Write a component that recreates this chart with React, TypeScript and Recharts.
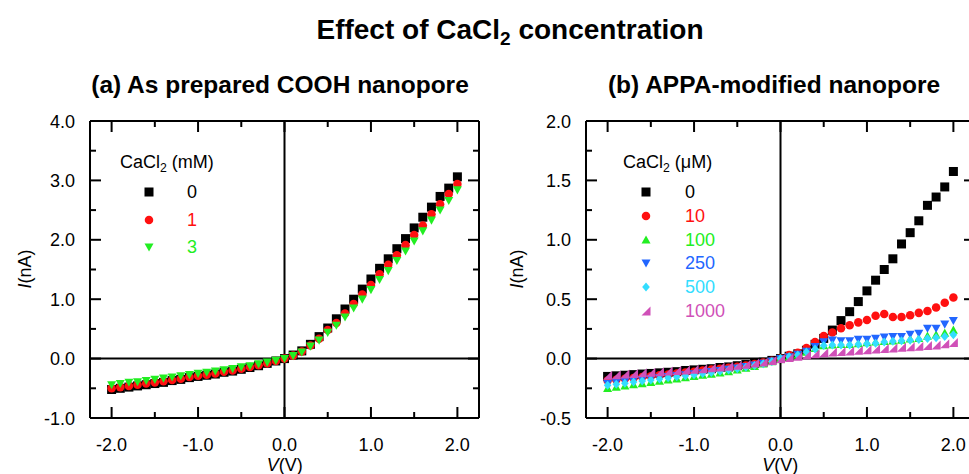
import { ReferenceLine, Scatter, ScatterChart, XAxis, YAxis } from 'recharts'

const FONT = '"Liberation Sans", Arial, Helvetica, sans-serif'

// bias voltage, V
const VOLTS = [
  -2.0, -1.9, -1.8, -1.7, -1.6, -1.5, -1.4, -1.3, -1.2, -1.1, -1.0, -0.9, -0.8, -0.7, -0.6, -0.5, -0.4, -0.3, -0.2, -0.1,
  0, 0.1, 0.2, 0.3, 0.4, 0.5, 0.6, 0.7, 0.8, 0.9, 1.0, 1.1, 1.2, 1.3, 1.4, 1.5, 1.6, 1.7, 1.8, 1.9, 2.0,
]

// (a) COOH nanopore, current in nA
const A_0MM = [
  -0.52, -0.5, -0.48, -0.46, -0.44, -0.42, -0.4, -0.37, -0.35, -0.32, -0.3, -0.28, -0.26, -0.23, -0.21, -0.18, -0.15, -0.12, -0.08, -0.04,
  0, 0.06, 0.13, 0.24, 0.37, 0.515, 0.67, 0.835, 1.0, 1.17, 1.34, 1.52, 1.68, 1.85, 2.02, 2.2, 2.38, 2.55, 2.73, 2.87, 3.06,
]
const A_1MM = [
  -0.5, -0.48, -0.46, -0.44, -0.42, -0.4, -0.38, -0.36, -0.34, -0.31, -0.29, -0.27, -0.25, -0.22, -0.2, -0.17, -0.14, -0.11, -0.08, -0.04,
  0, 0.05, 0.12, 0.22, 0.335, 0.48, 0.6, 0.76, 0.92, 1.08, 1.24, 1.42, 1.58, 1.74, 1.91, 2.08, 2.24, 2.43, 2.6, 2.77, 2.94,
]
const A_3MM = [
  -0.44, -0.42, -0.4, -0.39, -0.37, -0.35, -0.33, -0.31, -0.29, -0.27, -0.25, -0.23, -0.21, -0.19, -0.17, -0.14, -0.12, -0.09, -0.06, -0.03,
  0, 0.05, 0.11, 0.21, 0.31, 0.44, 0.56, 0.7, 0.85, 1.0, 1.16, 1.33, 1.48, 1.65, 1.81, 1.98, 2.15, 2.33, 2.5, 2.66, 2.84,
]

// (b) APPA-modified nanopore, current in nA
const B_0UM = [
  -0.15, -0.145, -0.14, -0.135, -0.13, -0.125, -0.12, -0.115, -0.11, -0.1, -0.095, -0.09, -0.085, -0.075, -0.07, -0.06, -0.05, -0.04, -0.03, -0.015,
  0, 0.02, 0.04, 0.07, 0.12, 0.17, 0.24, 0.32, 0.395, 0.48, 0.57, 0.66, 0.75, 0.84, 0.965, 1.06, 1.16, 1.29, 1.36, 1.445, 1.575,
]
const B_10UM = [
  -0.185, -0.178, -0.17, -0.163, -0.155, -0.148, -0.14, -0.133, -0.125, -0.118, -0.11, -0.1, -0.093, -0.085, -0.077, -0.068, -0.058, -0.046, -0.033, -0.018,
  0, 0.03, 0.05, 0.09, 0.14, 0.19, 0.22, 0.255, 0.28, 0.305, 0.325, 0.36, 0.375, 0.35, 0.35, 0.365, 0.385, 0.4, 0.43, 0.47, 0.515,
]
const B_100UM = [
  -0.25, -0.24, -0.23, -0.22, -0.21, -0.2, -0.19, -0.18, -0.17, -0.16, -0.15, -0.14, -0.13, -0.12, -0.11, -0.095, -0.08, -0.065, -0.045, -0.025,
  0, 0.015, 0.03, 0.055, 0.085, 0.11, 0.115, 0.12, 0.12, 0.125, 0.135, 0.14, 0.145, 0.15, 0.155, 0.165, 0.17, 0.19, 0.2, 0.215, 0.24,
]
const B_250UM = [
  -0.21, -0.2, -0.192, -0.184, -0.176, -0.168, -0.16, -0.152, -0.144, -0.136, -0.128, -0.12, -0.11, -0.1, -0.09, -0.08, -0.068, -0.055, -0.04, -0.022,
  0, 0.015, 0.035, 0.06, 0.1, 0.142, 0.155, 0.15, 0.15, 0.162, 0.162, 0.17, 0.18, 0.185, 0.185, 0.204, 0.213, 0.255, 0.255, 0.29, 0.32,
]
const B_500UM = [
  -0.225, -0.216, -0.207, -0.198, -0.189, -0.18, -0.171, -0.162, -0.153, -0.144, -0.135, -0.126, -0.117, -0.107, -0.097, -0.086, -0.073, -0.059, -0.043, -0.024,
  0, 0.015, 0.03, 0.055, 0.08, 0.11, 0.115, 0.115, 0.115, 0.12, 0.125, 0.13, 0.14, 0.145, 0.15, 0.155, 0.16, 0.17, 0.175, 0.185, 0.2,
]
const B_1000UM = [
  -0.14, -0.135, -0.13, -0.125, -0.12, -0.115, -0.11, -0.105, -0.1, -0.095, -0.09, -0.085, -0.078, -0.071, -0.064, -0.056, -0.047, -0.038, -0.028, -0.015,
  0, 0.01, 0.02, 0.03, 0.04, 0.05, 0.055, 0.06, 0.065, 0.07, 0.075, 0.08, 0.085, 0.09, 0.095, 0.1, 0.105, 0.11, 0.115, 0.125, 0.135,
]

const X_TICKS = [-2, -1.5, -1, -0.5, 0, 0.5, 1, 1.5, 2]
const X_MAJOR = [-2, -1, 0, 1, 2]
const Y_TICKS_A = [-1, -0.5, 0, 0.5, 1, 1.5, 2, 2.5, 3, 3.5, 4]
const Y_MAJOR_A = [-1, 0, 1, 2, 3, 4]
const Y_TICKS_B = [-0.5, -0.25, 0, 0.25, 0.5, 0.75, 1, 1.25, 1.5, 1.75, 2]
const Y_MAJOR_B = [-0.5, 0, 0.5, 1, 1.5, 2]

type Kind = 'square' | 'circle' | 'up' | 'down' | 'diamond' | 'corner'

interface Series {
  label: string
  color: string
  kind: Kind
  values: number[]
}

const SERIES_A: Series[] = [
  { label: '0', color: '#000000', kind: 'square', values: A_0MM },
  { label: '1', color: '#ff1010', kind: 'circle', values: A_1MM },
  { label: '3', color: '#22ee22', kind: 'down', values: A_3MM },
]

const SERIES_B: Series[] = [
  { label: '0', color: '#000000', kind: 'square', values: B_0UM },
  { label: '10', color: '#ff1010', kind: 'circle', values: B_10UM },
  { label: '100', color: '#22ee22', kind: 'up', values: B_100UM },
  { label: '250', color: '#2266ff', kind: 'down', values: B_250UM },
  { label: '500', color: '#33ddff', kind: 'diamond', values: B_500UM },
  { label: '1000', color: '#d050b8', kind: 'corner', values: B_1000UM },
]

const INK = '#000'
const MAJOR_LEN = 11
const MINOR_LEN = 6

function Marker({ cx, cy, kind, color, size = 9 }: { cx: number; cy: number; kind: Kind; color: string; size?: number }) {
  const s = size / 2
  switch (kind) {
    case 'square':
      return <rect x={cx - s} y={cy - s} width={size} height={size} fill={color} />
    case 'circle':
      return <circle cx={cx} cy={cy} r={s * 0.95} fill={color} />
    case 'up':
      return <polygon points={`${cx},${cy - s} ${cx + s},${cy + s * 0.8} ${cx - s},${cy + s * 0.8}`} fill={color} />
    case 'down':
      return <polygon points={`${cx - s},${cy - s * 0.8} ${cx + s},${cy - s * 0.8} ${cx},${cy + s}`} fill={color} />
    case 'diamond':
      return <polygon points={`${cx},${cy - s} ${cx + s * 0.85},${cy} ${cx},${cy + s} ${cx - s * 0.85},${cy}`} fill={color} />
    default:
      return <polygon points={`${cx + s},${cy - s} ${cx + s},${cy + s} ${cx - s},${cy + s}`} fill={color} />
  }
}

const isMajor = (v: number, majors: number[]) => majors.some((m) => Math.abs(m - v) < 1e-9)

const tickText = { fontFamily: FONT, fontSize: 18, fill: INK }

// ticks point into the plot; labels sit outside
function makeTick(side: 'bottom' | 'top' | 'left' | 'right', majors: number[]) {
  return (props: any) => {
    const { x, y, payload } = props
    const v = payload.value as number
    const major = isMajor(v, majors)
    const len = major ? MAJOR_LEN : MINOR_LEN
    if (side === 'bottom') {
      return (
        <g>
          <line x1={x} x2={x} y1={y} y2={y - len} stroke={INK} strokeWidth={2} />
          {major && (
            <text x={x} y={y + 33} textAnchor="middle" {...tickText}>
              {v.toFixed(1)}
            </text>
          )}
        </g>
      )
    }
    if (side === 'top') return <line x1={x} x2={x} y1={y} y2={y + len} stroke={INK} strokeWidth={2} />
    if (side === 'left') {
      return (
        <g>
          <line x1={x} x2={x + len} y1={y} y2={y} stroke={INK} strokeWidth={2} />
          {major && (
            <text x={x - 15} y={y + 6.5} textAnchor="end" {...tickText}>
              {v.toFixed(1)}
            </text>
          )}
        </g>
      )
    }
    return <line x1={x} x2={x - len} y1={y} y2={y} stroke={INK} strokeWidth={2} />
  }
}

const axisLine = { stroke: INK, strokeWidth: 2 }

interface PanelProps {
  series: Series[]
  yDomain: [number, number]
  yTicks: number[]
  yMajors: number[]
  left: number
  margin: { top: number; right: number; bottom: number; left: number }
}

function Panel({ series, yDomain, yTicks, yMajors, left, margin }: PanelProps) {
  const common = { type: 'number' as const, allowDataOverflow: true, interval: 0 as const, tickSize: 0, tickMargin: 0, tickLine: false, axisLine }
  return (
    <div style={{ position: 'absolute', left, top: 0 }}>
      <ScatterChart width={490} height={474} margin={margin}>
        <XAxis xAxisId="b" dataKey="v" domain={[-2.25, 2.25]} ticks={X_TICKS} height={1} tick={makeTick('bottom', X_MAJOR)} {...common} />
        <XAxis xAxisId="t" orientation="top" dataKey="v" domain={[-2.25, 2.25]} ticks={X_TICKS} height={1} tick={makeTick('top', X_MAJOR)} {...common} />
        <YAxis yAxisId="l" dataKey="i" domain={yDomain} ticks={yTicks} width={1} tick={makeTick('left', yMajors)} {...common} />
        <YAxis yAxisId="r" orientation="right" dataKey="i" domain={yDomain} ticks={yTicks} width={1} tick={makeTick('right', yMajors)} {...common} />
        <ReferenceLine xAxisId="b" yAxisId="l" x={0} stroke={INK} strokeWidth={2} />
        <ReferenceLine xAxisId="b" yAxisId="l" y={0} stroke={INK} strokeWidth={2} />
        {series.map((s) => (
          <Scatter
            key={s.label}
            xAxisId="b"
            yAxisId="l"
            data={VOLTS.map((v, k) => ({ v, i: s.values[k] }))}
            isAnimationActive={false}
            shape={(p: any) => <Marker cx={p.cx} cy={p.cy} kind={s.kind} color={s.color} />}
          />
        ))}
      </ScatterChart>
    </div>
  )
}

function Sub2() {
  return <span style={{ fontSize: '0.68em', position: 'relative', top: '0.3em' }}>2</span>
}

function LegendBox({ series, unit, left, top, markerX, textX, rowGap }: {
  series: Series[]; unit: string; left: number; top: number; markerX: number; textX: number; rowGap: number
}) {
  return (
    <div style={{ position: 'absolute', left, top, fontFamily: FONT, fontSize: 18, lineHeight: '20px' }}>
      <div style={{ whiteSpace: 'nowrap', height: 20 }}>
        CaCl<Sub2 /> ({unit})
      </div>
      {series.map((s, k) => (
        <div key={s.label} style={{ position: 'absolute', top: 30 + k * rowGap, left: 0, height: 20, width: 140 }}>
          <svg width={14} height={14} style={{ position: 'absolute', left: markerX - 7, top: 3 }}>
            <Marker cx={7} cy={7} kind={s.kind} color={s.color} />
          </svg>
          <span style={{ position: 'absolute', left: textX, color: s.color }}>{s.label}</span>
        </div>
      ))}
    </div>
  )
}

const abs = (l: number, t: number, extra: object = {}) => ({ position: 'absolute' as const, left: l, top: t, ...extra })

export default function App() {
  return (
    <div style={{ position: 'absolute', left: 0, top: 0, width: 969, height: 474, overflow: 'hidden', background: '#fff', fontFamily: FONT }}>
      <div style={abs(210, 14, { width: 600, textAlign: 'center', fontSize: 28, fontWeight: 'bold', lineHeight: '32px' })}>
        Effect of CaCl<Sub2 /> concentration
      </div>
      <div style={abs(30, 71, { width: 500, textAlign: 'center', fontSize: 24.5, fontWeight: 'bold', lineHeight: '28px' })}>
        (a) As prepared COOH nanopore
      </div>
      <div style={abs(524, 71, { width: 500, textAlign: 'center', fontSize: 24.5, fontWeight: 'bold', lineHeight: '28px' })}>
        (b) APPA-modified nanopore
      </div>

      <Panel series={SERIES_A} yDomain={[-1, 4]} yTicks={Y_TICKS_A} yMajors={Y_MAJOR_A} left={0}
        margin={{ top: 120, right: 10, bottom: 55, left: 89 }} />
      <Panel series={SERIES_B} yDomain={[-0.5, 2]} yTicks={Y_TICKS_B} yMajors={Y_MAJOR_B} left={490}
        margin={{ top: 120, right: 4, bottom: 55, left: 95 }} />

      <LegendBox series={SERIES_A} unit="mM" left={120} top={152} markerX={29} textX={67} rowGap={27.5} />
      <LegendBox series={SERIES_B} unit="μM" left={623} top={152} markerX={23} textX={62} rowGap={23.8} />

      {[{ x: 25 }, { x: 517 }].map((p) => (
        <div key={p.x} style={abs(p.x - 50, 258, { width: 100, textAlign: 'center', fontSize: 18, lineHeight: '22px', transform: 'rotate(-90deg)' })}>
          <i>I</i>(nA)
        </div>
      ))}
      {[{ x: 284.7 }, { x: 780.3 }].map((p) => (
        <div key={p.x} style={abs(p.x - 50, 454, { width: 100, textAlign: 'center', fontSize: 18, lineHeight: '22px' })}>
          <i>V</i>(V)
        </div>
      ))}
    </div>
  )
}
